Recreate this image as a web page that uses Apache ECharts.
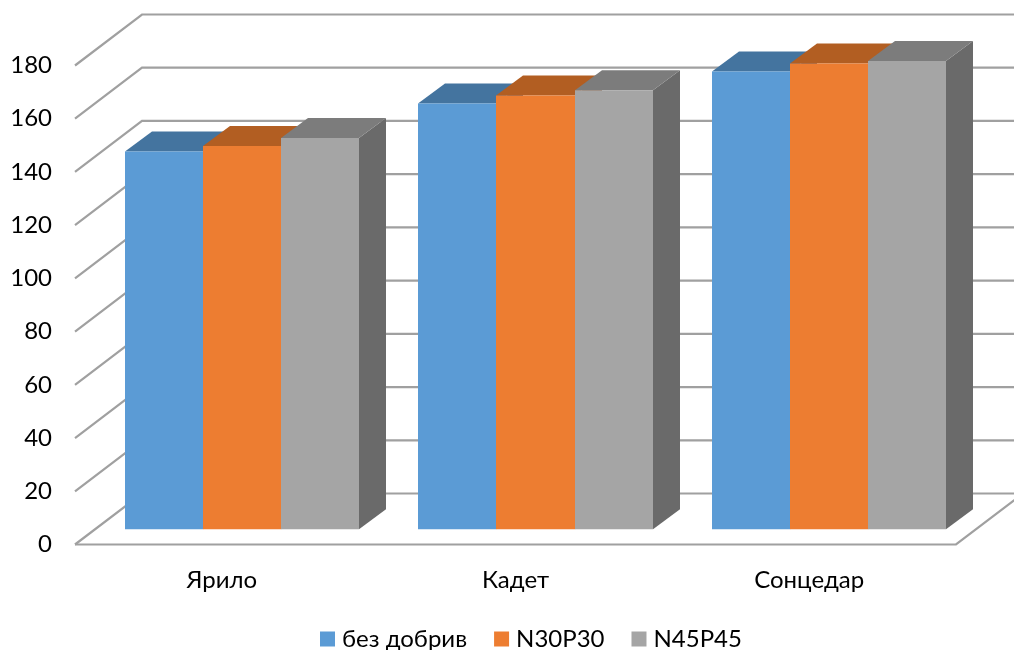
<!DOCTYPE html>
<html>
<head>
<meta charset="utf-8">
<style>html,body{margin:0;padding:0;background:#fff}#c{width:1014px;height:650px}</style>
<script src="https://cdn.jsdelivr.net/npm/echarts@6/dist/echarts.min.js"></script>
</head>
<body>
<div id="c"></div>
<script>
const categories = ['Ярило', 'Кадет', 'Сонцедар'];
const ticks = [0, 20, 40, 60, 80, 100, 120, 140, 160, 180];
const seriesNames = ['без добрив', 'N30P30', 'N45P45'];
const bezDobryv = [142, 160, 172];
const n30p30 = [144, 163, 175];
const n45p45 = [147, 165, 176];
const FONT = 'Lato, "Open Sans", sans-serif';
const front = ['#5B9BD5', '#ED7D31', '#A5A5A5'];
const topFace = ['#44749F', '#B25E22', '#7C7C7C'];
const sideFace = ['#39618A', '#934D1D', '#6A6A6A'];
const WALL = { dx: 67, dy: -51 };
const BAR = { dx: 20, dy: -15.2, depthX: 27, depthY: -20, widthFrac: 78.1 / 293.33 };
const GRID_STYLE = { stroke: '#A0A0A0', lineWidth: 2.2, fill: null };

function wallItem(params, api) {
  const v = api.value(0);
  const a = api.coord([0, v]);
  const cs = params.coordSys;
  const left = [cs.x, a[1]];
  const right = [cs.x + cs.width, a[1]];
  const back = p => [p[0] + WALL.dx, p[1] + WALL.dy];
  const pts = [left, back(left), back(right)];
  const children = [{ type: 'polyline', shape: { points: pts }, style: GRID_STYLE }];
  if (v === 0) {
    children.push({ type: 'polyline', shape: { points: [left, right, back(right)] }, style: GRID_STYLE });
  }
  return { type: 'group', children };
}

function barRenderer(si) {
  return function (params, api) {
    const i = api.value(0);
    const band = api.size([1, 0])[0];
    const w = band * BAR.widthFrac;
    const top = api.coord([i, api.value(1)]);
    const base = api.coord([i, 0]);
    const x0 = Math.round(top[0] + BAR.dx + (si - 1.5) * w);
    const x1 = Math.round(top[0] + BAR.dx + (si - 0.5) * w);
    const yT = top[1] + BAR.dy;
    const yB = base[1] + BAR.dy;
    const dx = BAR.depthX, dy = BAR.depthY;
    return {
      type: 'group',
      children: [
        { type: 'polygon', shape: { points: [[x1, yT], [x1 + dx, yT + dy], [x1 + dx, yB + dy], [x1, yB]] }, style: { fill: sideFace[si] } },
        { type: 'polygon', shape: { points: [[x0, yT], [x0 + dx, yT + dy], [x1 + dx, yT + dy], [x1, yT]] }, style: { fill: topFace[si] } },
        { type: 'rect', shape: { x: x0, y: yT, width: x1 - x0, height: yB - yT }, style: { fill: front[si] } }
      ]
    };
  };
}

const toData = arr => arr.map((v, i) => [i, v]);
const valuesBySeries = [bezDobryv, n30p30, n45p45];

const option = {
  animation: false,
  backgroundColor: '#fff',
  textStyle: { fontFamily: FONT },
  grid: { left: 75, right: 58, top: 65.5, bottom: 105.5, containLabel: false },
  legend: {
    data: seriesNames,
    left: 315, top: 622,
    icon: 'rect', itemWidth: 15, itemHeight: 15, itemGap: 27,
    textStyle: { fontFamily: FONT, fontSize: 24, color: '#000', padding: [0, 0, 0, 2] }
  },
  xAxis: {
    type: 'category', data: categories,
    axisLine: { show: false }, axisTick: { show: false }, splitLine: { show: false },
    axisLabel: { fontFamily: FONT, fontSize: 24, color: '#000', margin: 24 }
  },
  yAxis: {
    type: 'value', min: 0, max: 180, interval: 20,
    axisLine: { show: false }, axisTick: { show: false }, splitLine: { show: false },
    axisLabel: { fontFamily: FONT, fontSize: 24, color: '#000', margin: 23, padding: [3, 0, 0, 0] }
  },
  series: [
    { type: 'custom', name: 'wall', silent: true, renderItem: wallItem, data: ticks.map(t => [t]), encode: { y: 0 }, z: 1 }
  ].concat(seriesNames.map((name, si) => ({
    type: 'custom', name,
    itemStyle: { color: front[si] },
    renderItem: barRenderer(si),
    data: toData(valuesBySeries[si]),
    encode: { x: 0, y: 1 },
    z: 2 + si
  })))
};
echarts.init(document.getElementById('c'), null, { renderer: 'canvas' }).setOption(option);
</script>
</body>
</html>
